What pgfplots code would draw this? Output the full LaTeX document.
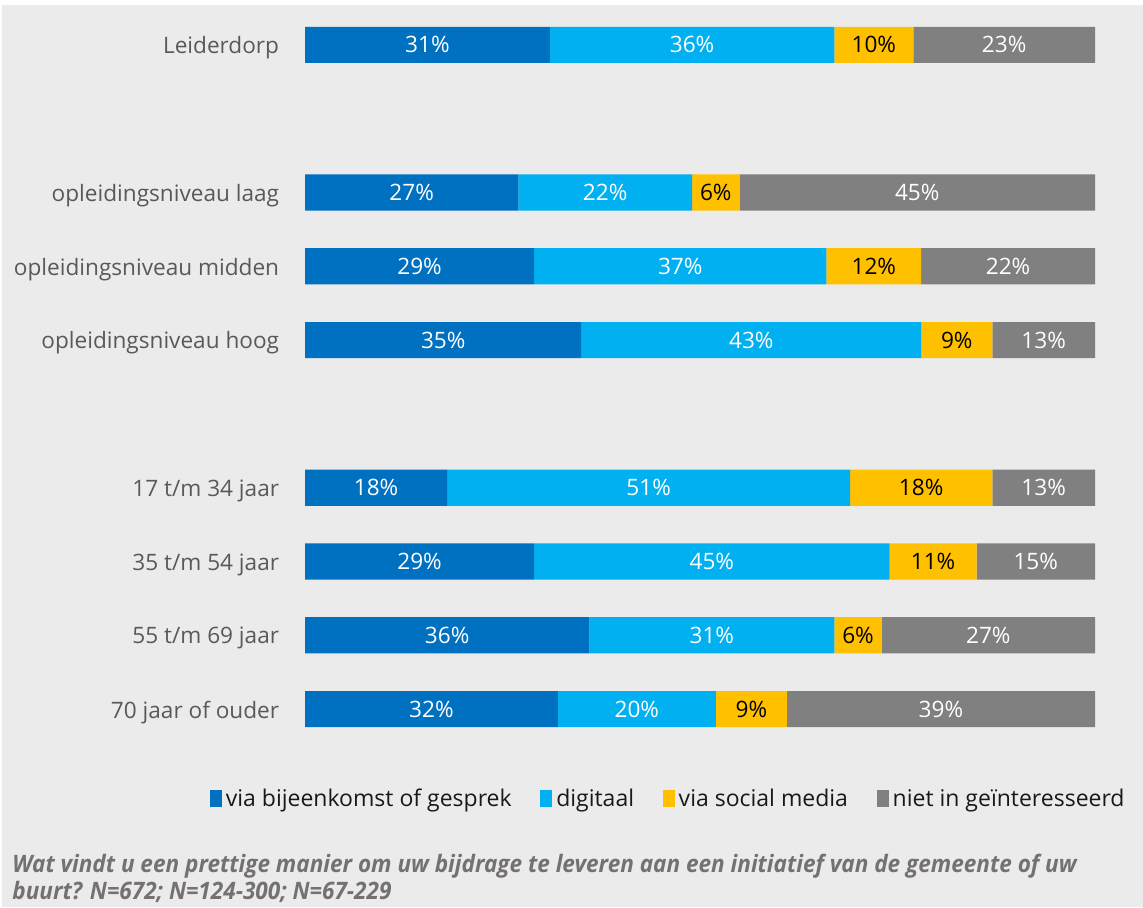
\documentclass[border=0pt]{standalone}
\usepackage{pgfplots}
\pgfplotsset{compat=1.18}
\usepackage{pgfplotstable}
\usepackage{fontspec}
\setmainfont{Open Sans}
\newfontfamily\capfont[FakeStretch=0.94]{Open Sans}
\definecolor{cA}{HTML}{0070C0}
\definecolor{cB}{HTML}{00B0F0}
\definecolor{cC}{HTML}{FFC000}
\definecolor{cD}{HTML}{808080}
\definecolor{bg}{HTML}{EBEBEB}
\definecolor{lab}{HTML}{595959}
\definecolor{capc}{HTML}{767171}
\pgfplotstableread{
y a b c d
9 31 36 10 23
7 27 22 6 45
6 29 37 12 22
5 35 43 9 13
3 18 51 18 13
2 29 45 11 15
1 36 31 6 27
0 32 20 9 39
}\datatable
\begin{document}
\fontsize{11.3pt}{13pt}\selectfont
\begin{tikzpicture}
\fill[white] (0,0) rectangle (571.5pt,453.5pt);
\fill[bg] (1pt,0) rectangle (571.5pt,451pt);
\useasboundingbox (0,0) rectangle (571.5pt,453.5pt);
\begin{axis}[
  at={(152.5pt,80.5pt)}, anchor=south west,
  scale only axis, width=395pt, height=369pt,
  xbar stacked, bar width=0.49,
  xmin=0, xmax=100, ymin=-0.5, ymax=9.5,
  axis line style={draw=none}, xtick=\empty,
  ytick={0,1,2,3,5,6,7,9},
  yticklabels={70 jaar of ouder,55 t/m 69 jaar,35 t/m 54 jaar,17 t/m 34 jaar,opleidingsniveau hoog,opleidingsniveau midden,opleidingsniveau laag,Leiderdorp},
  major tick length=0pt,
  ytick style={draw=none},
  yticklabel style={text=lab, font=\fontsize{11.3pt}{13pt}\selectfont, xshift=-9pt, yshift=-1.5pt},
  nodes near coords={\pgfmathprintnumber{\segw}\%},
  nodes near coords style={anchor=center, font=\fontsize{11.3pt}{13pt}\selectfont, /pgf/number format/assume math mode=true},
  legend columns=4,
  legend style={at={(0.461,-0.072)}, anchor=center, draw=none, fill=none,
    font=\fontsize{11.5pt}{13pt}\selectfont, text=black!90,
    /tikz/every even column/.append style={column sep=12.3pt}},
  legend image code/.code={\fill[#1] (0pt,-4pt) rectangle (6pt,4.5pt);},
]
\addplot[fill=cA, draw=none, visualization depends on={\thisrow{a} \as \segw}, nodes near coords style={text=white}] table[x=a,y=y] {\datatable};
\addlegendentry{via bijeenkomst of gesprek}
\addplot[fill=cB, draw=none, visualization depends on={\thisrow{b} \as \segw}, nodes near coords style={text=white}] table[x=b,y=y] {\datatable};
\addlegendentry{digitaal}
\addplot[fill=cC, draw=none, visualization depends on={\thisrow{c} \as \segw}, nodes near coords style={text=black}] table[x=c,y=y] {\datatable};
\addlegendentry{via social media}
\addplot[fill=cD, draw=none, visualization depends on={\thisrow{d} \as \segw}, nodes near coords style={text=white}] table[x=d,y=y] {\datatable};
\addlegendentry{niet in geïnteresseerd}
\end{axis}
\node[anchor=west, text=capc, font=\capfont\bfseries\itshape\fontsize{12pt}{13pt}\selectfont, inner sep=0pt] at (6pt,20.5pt) {Wat vindt u een prettige manier om uw bijdrage te leveren aan een initiatief van de gemeente of uw};
\node[anchor=west, text=capc, font=\capfont\bfseries\itshape\fontsize{12pt}{13pt}\selectfont, inner sep=0pt] at (6pt,7.5pt) {buurt? N=672; N=124-300; N=67-229};
\end{tikzpicture}
\end{document}
